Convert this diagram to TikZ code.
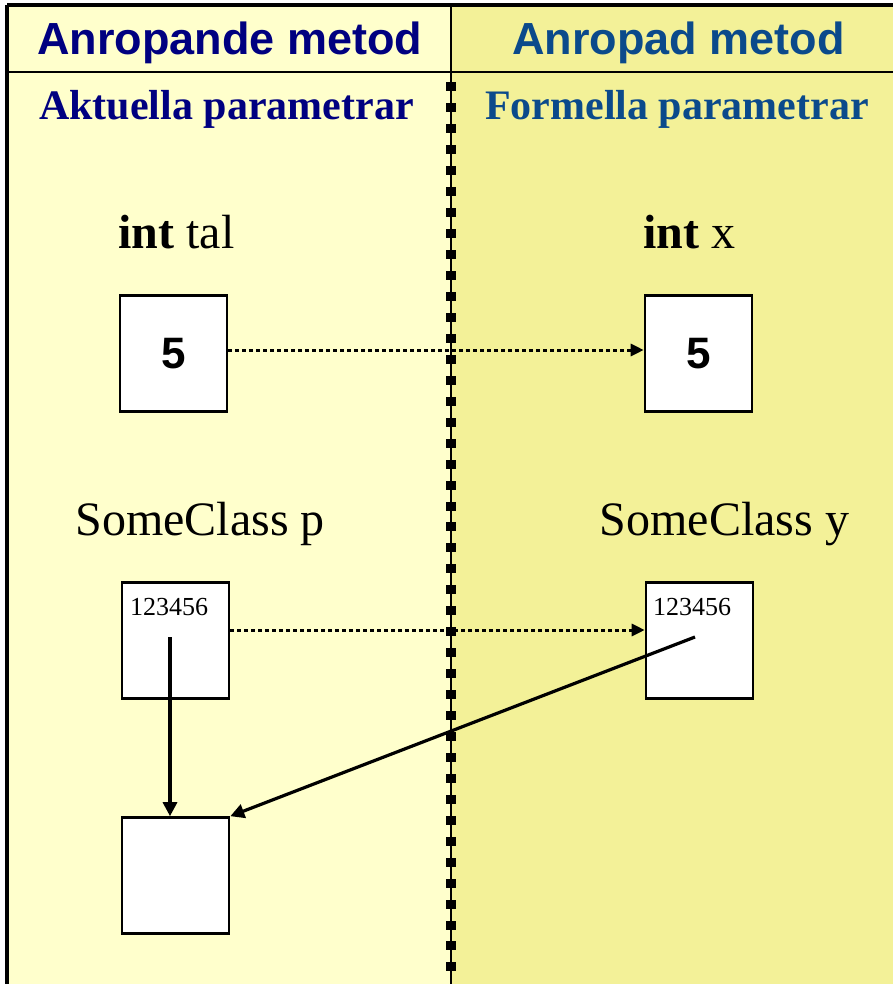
\documentclass[tikz,border=0pt]{standalone}
\usepackage{fontspec}
\setmainfont{Liberation Serif}
\setsansfont{Liberation Sans}
\usetikzlibrary{arrows.meta}
\definecolor{colA}{HTML}{FFFFCC}
\definecolor{colB}{HTML}{F3F198}
\definecolor{headA}{HTML}{000080}
\definecolor{headB}{HTML}{0B4A8B}
\tikzset{
  head/.style={anchor=base, inner sep=0pt, font=\sffamily\bfseries\fontsize{45}{54}\selectfont},
  sub/.style={anchor=base, inner sep=0pt, font=\bfseries\fontsize{42}{50}\selectfont},
  decl/.style={anchor=base, inner sep=0pt, font=\fontsize{48}{56}\selectfont},
  cell/.style={draw=black, line width=2.6pt, fill=white, minimum width=107pt, minimum height=116pt, inner sep=0pt},
  numcell/.style={cell, font=\sffamily\bfseries\fontsize{44}{50}\selectfont},
  addr/.style={anchor=base west, inner sep=0pt, font=\fontsize{26}{30}\selectfont},
  passed/.style={line width=3pt, dash pattern=on 4pt off 3pt, -{Triangle[length=13pt,width=12pt]}},
  refarrow/.style={line width=3.2pt, -{Triangle[length=14pt,width=14pt]}}
}
\begin{document}
\begin{tikzpicture}[x=1pt, y=-1pt]
\useasboundingbox (0,0) rectangle (893,984);
% column backgrounds
\fill[colA] (7,5) rectangle (451,984);
\fill[colB] (451,5) rectangle (893,984);
% frame lines
\draw[line width=3.2pt] (7,5) -- (893,5);
\draw[line width=2.8pt] (7,72) -- (893,72);
\draw[line width=3.4pt] (7,5) -- (7,984);
\draw[line width=2.6pt] (451,5) -- (451,984);
% square dots along the divider
\foreach \i in {0,...,42}
  \fill (446,{87+\i*20.95-4.5}) rectangle (456,{87+\i*20.95+4.5});

% headings
\node[head, text=headA] (hcaller) at (230,55) {Anropande metod};
\node[head, text=headB] (hcallee) at (678.5,55) {Anropad metod};
\node[sub, text=headA] (actual) at (226.5,120) {Aktuella parametrar};
\node[sub, text=headB] (formal) at (677,120) {Formella parametrar};

% primitive parameter
\node[decl] (dtal) at (176.5,248) {\textbf{int} tal};
\node[decl] (dx) at (689,248) {\textbf{int} x};
\node[numcell] (tal) at (173.5,353.5) {5};
\node[numcell] (xv) at (698.5,353.5) {5};
\draw[passed] ([yshift=3.5pt]tal.east) -- ([yshift=3.5pt]xv.west);

% reference parameter
\node[decl] (dp) at (200,535) {SomeClass p};
\node[decl] (dy) at (724.5,535) {SomeClass y};
\node[cell] (pv) at (175.5,640.5) {};
\node[cell] (yv) at (699.5,640.5) {};
\node[addr] (pa) at (130,615) {123456};
\node[addr] (ya) at (653,615) {123456};
\draw[passed] ([yshift=10.5pt]pv.east) -- ([yshift=10.5pt]yv.west);

% referenced object
\node[cell] (obj) at (175.5,875.5) {};
\coordinate (pref) at (170,637);
\coordinate (yref) at (695,637);
\draw[refarrow] (pref) -- (pref |- obj.north);
\draw[refarrow] (yref) -- (obj.north east);
\end{tikzpicture}
\end{document}
